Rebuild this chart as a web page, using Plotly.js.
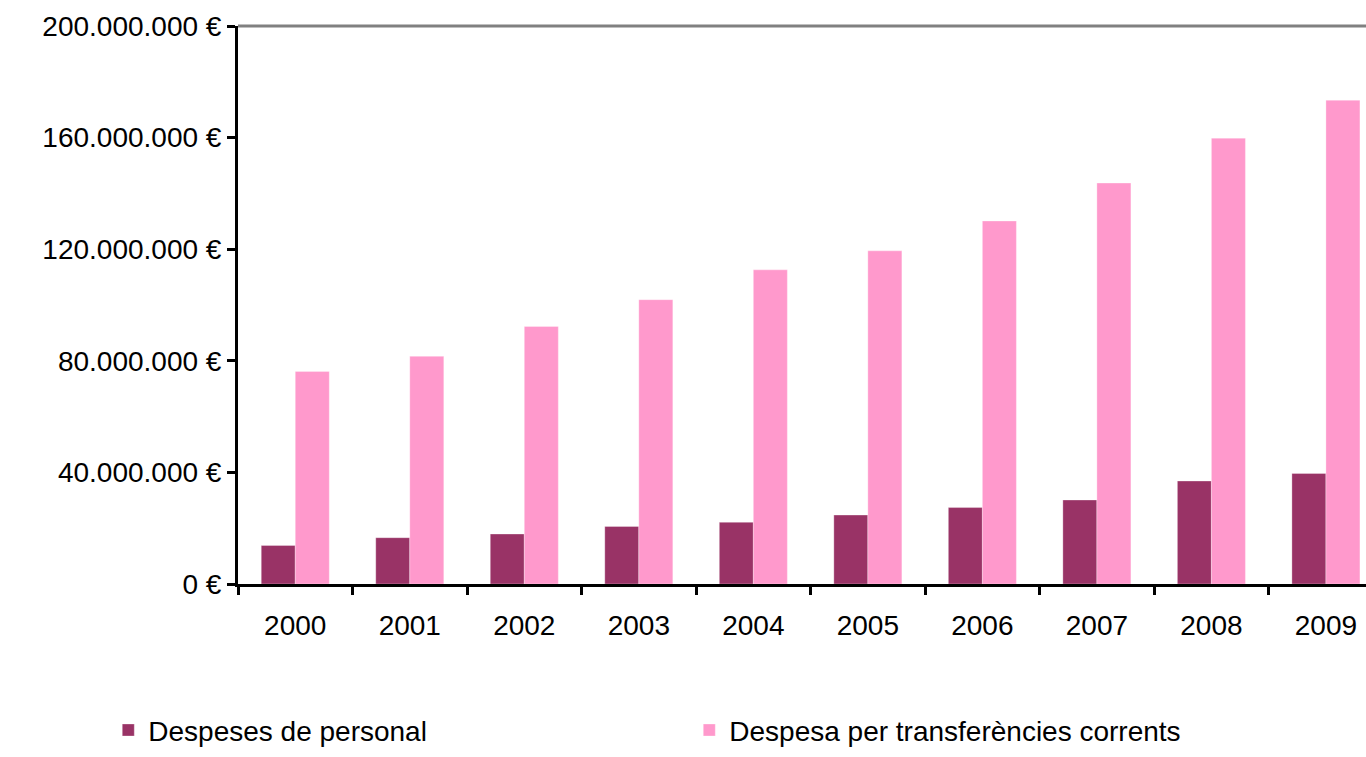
<!DOCTYPE html>
<html>
<head>
<meta charset="utf-8">
<script src="https://cdn.plot.ly/plotly-3.0.1.min.js"></script>
<style>html,body{margin:0;padding:0;background:#fff;}#chart{width:1366px;height:757px;}</style>
</head>
<body>
<div id="chart"></div>
<script>
const years = ['2000','2001','2002','2003','2004','2005','2006','2007','2008','2009'];
const personal = [13.8e6, 16.6e6, 17.9e6, 20.6e6, 22.1e6, 24.7e6, 27.4e6, 30.1e6, 36.9e6, 39.6e6];
const transferencies = [76.2e6, 81.6e6, 92.3e6, 101.9e6, 112.6e6, 119.4e6, 130.1e6, 143.7e6, 159.8e6, 173.4e6];
const seriesNames = ['Despeses de personal', 'Despesa per transferències corrents'];
const yTicks = [0, 40e6, 80e6, 120e6, 160e6, 200e6];
const yTickText = yTicks.map(v => String(Math.round(v)).replace(/\B(?=(\d{3})+(?!\d))/g, '.') + ' \u20AC');

const font = {family: '"Liberation Sans", Arial, sans-serif', size: 28, color: '#000'};

const traces = [
  {type: 'bar', x: years, y: personal, name: seriesNames[0],
   marker: {color: '#993366', line: {color: 'rgba(255,255,255,0.6)', width: 0.5}}},
  {type: 'bar', x: years, y: transferencies, name: seriesNames[1],
   marker: {color: '#FF99CC', line: {color: 'rgba(255,255,255,0.6)', width: 0.5}}}
];

const layout = {
  width: 1366, height: 757,
  margin: {l: 238, r: 0, t: 26, b: 173, pad: 0},
  paper_bgcolor: '#fff', plot_bgcolor: '#fff',
  font: font,
  barmode: 'group', bargap: 0.406, bargroupgap: 0,
  showlegend: true,
  legend: {orientation: 'h', x: -0.115, xanchor: 'left', y: -0.307, yanchor: 'bottom',
           font: font, entrywidth: 536, entrywidthmode: 'pixels', traceorder: 'normal',
           itemwidth: 30, tracegroupgap: 0, bgcolor: 'rgba(0,0,0,0)'},
  xaxis: {type: 'category', range: [-0.5, 9.35], showline: true, linecolor: '#000', linewidth: 3,
          ticks: 'outside', tickson: 'boundaries', ticklen: 8, tickwidth: 3, tickcolor: '#000',
          ticklabelstandoff: 14, showgrid: false, zeroline: false, fixedrange: true, automargin: false},
  yaxis: {range: [0, 200e6], tickmode: 'array', tickvals: yTicks, ticktext: yTickText,
          showline: true, linecolor: '#000', linewidth: 3,
          ticks: 'outside', ticklen: 8, tickwidth: 3, tickcolor: '#000', ticklabelstandoff: 0,
          showgrid: false, zeroline: false, fixedrange: true, automargin: false},
  shapes: [{type: 'line', xref: 'paper', yref: 'paper', x0: 0, x1: 1, y0: 1, y1: 1,
            line: {color: '#808080', width: 3}}]
};

Plotly.newPlot('chart', traces, layout, {displayModeBar: false, staticPlot: true});
</script>
</body>
</html>
